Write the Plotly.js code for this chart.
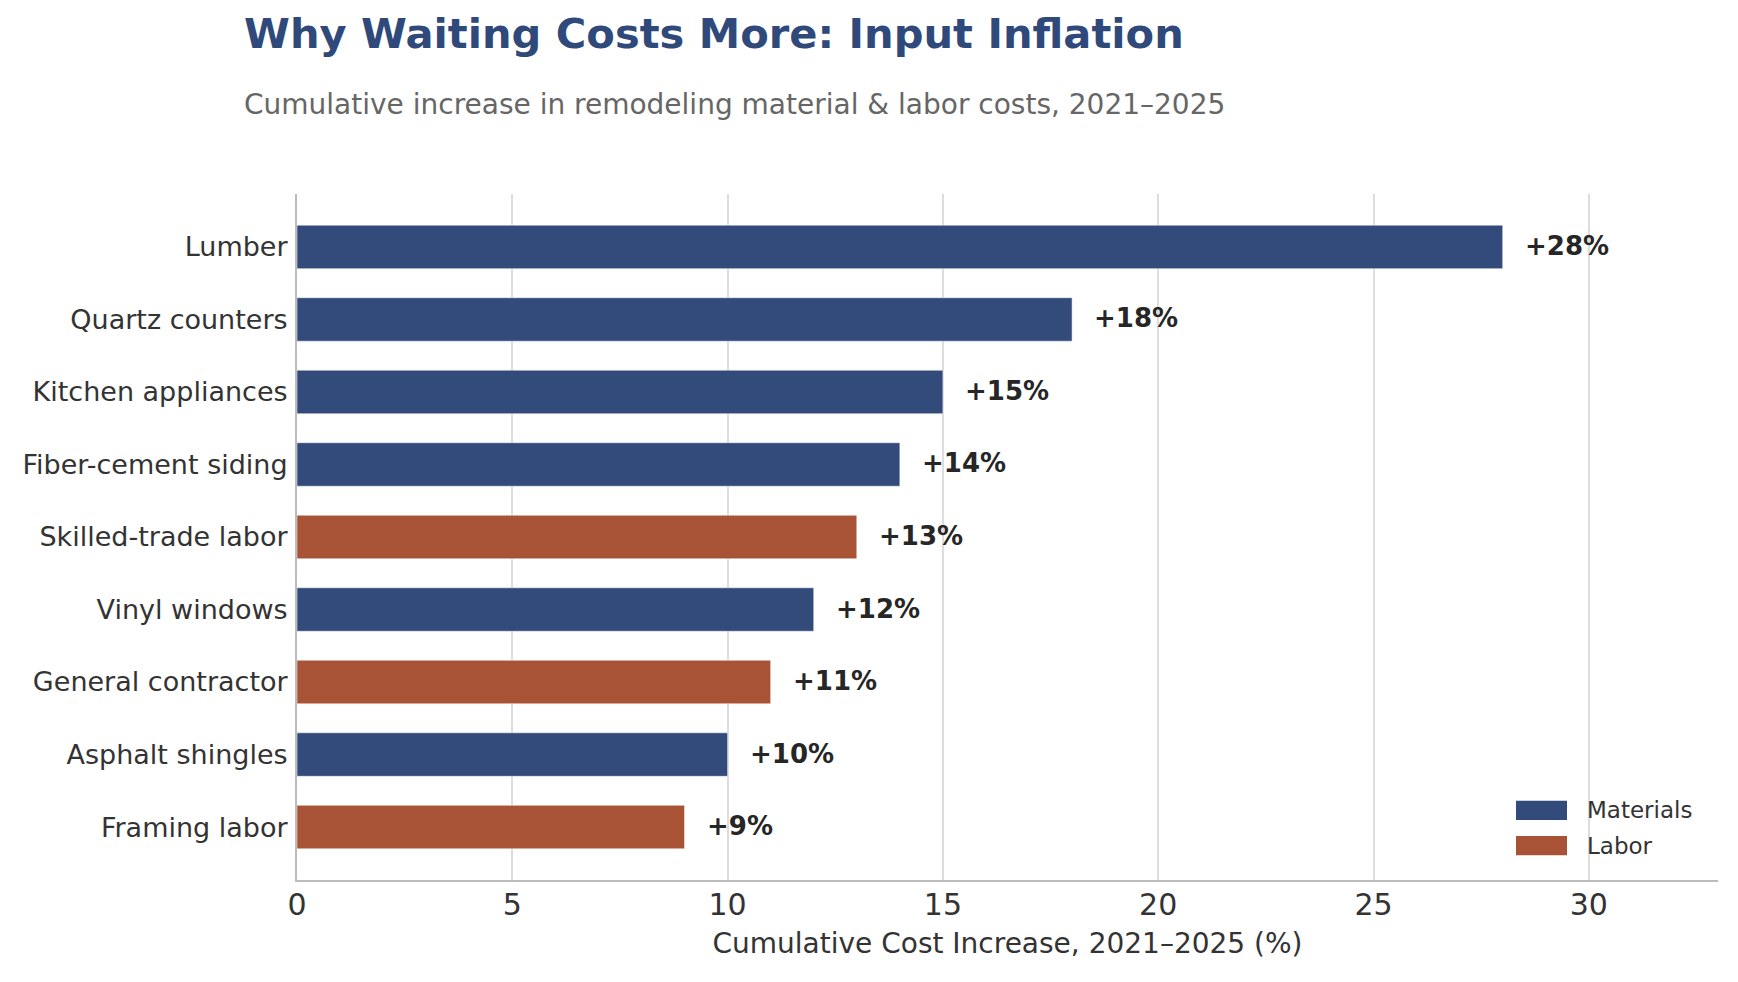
<!DOCTYPE html>
<html>
<head>
<meta charset="utf-8">
<script src="https://cdn.plot.ly/plotly-3.0.1.min.js"></script>
<style>
  html, body { margin: 0; padding: 0; background: #ffffff; }
  #chart { width: 1738px; height: 982px; }
</style>
</head>
<body>
<div id="chart"></div>
<script>
// ---- Data (top to bottom) ----
const categories = ["Lumber", "Quartz counters", "Kitchen appliances", "Fiber-cement siding",
                    "Skilled-trade labor", "Vinyl windows", "General contractor",
                    "Asphalt shingles", "Framing labor"];
const values = [28, 18, 15, 14, 13, 12, 11, 10, 9];
const groups = ["Materials", "Materials", "Materials", "Materials", "Labor",
                "Materials", "Labor", "Materials", "Labor"];
const seriesNames = ["Materials", "Labor"];
const seriesColors = ["#334b7b", "#a85236"];
const xTickValues = [0, 5, 10, 15, 20, 25, 30];

const FONT = "DejaVu Sans";

// ---- Traces ----
const traces = seriesNames.map((name, si) => {
  const ys = [], xs = [];
  categories.forEach((c, i) => { if (groups[i] === name) { ys.push(c); xs.push(values[i]); } });
  return {
    type: "bar", orientation: "h", name: name,
    x: xs, y: ys, width: 0.6,
    marker: { color: seriesColors[si], line: { color: "rgba(255,255,255,0.5)", width: 1 } },
    showlegend: false,
    hoverinfo: "x+y"
  };
});

// ---- Value labels ----
const annotations = categories.map((c, i) => ({
  x: values[i], y: c, xref: "x", yref: "y",
  text: "<b>+" + values[i] + "%</b>",
  showarrow: false, xanchor: "left", yanchor: "middle",
  xshift: 20, yshift: 1,
  font: { family: FONT, size: 26, color: "#262626" }
}));

// subtitle
annotations.push({
  xref: "paper", yref: "paper", x: (242 - 297) / 1421, y: (880 - 104) / 686,
  xanchor: "left", yanchor: "middle", showarrow: false,
  text: "Cumulative increase in remodeling material &amp; labor costs, 2021–2025",
  font: { family: FONT, size: 28, color: "#666666" }
});

// custom legend
const shapes = [];
const legendCenters = [810.3, 845.7];
seriesNames.forEach((name, si) => {
  const cy = legendCenters[si];
  shapes.push({
    type: "rect", xref: "paper", yref: "paper",
    x0: (1516 - 297) / 1421, x1: (1567 - 297) / 1421,
    y0: (880 - (cy + 9.6)) / 686, y1: (880 - (cy - 9.6)) / 686,
    fillcolor: seriesColors[si], line: { width: 0 }
  });
  annotations.push({
    xref: "paper", yref: "paper", x: (1585 - 297) / 1421, y: (880 - cy) / 686,
    xanchor: "left", yanchor: "middle", showarrow: false,
    text: name, font: { family: FONT, size: 23, color: "#333333" }
  });
});

const layout = {
  width: 1738, height: 982,
  paper_bgcolor: "#ffffff", plot_bgcolor: "#ffffff",
  margin: { l: 297, r: 20, t: 194, b: 102, pad: 0 },
  font: { family: FONT, color: "#333333" },
  title: {
    text: "<b>Why Waiting Costs More: Input Inflation</b>",
    font: { family: FONT, size: 41.6, color: "#2f4a7a" },
    xref: "container", yref: "container",
    x: 244 / 1738, xanchor: "left",
    y: 1 - 18.5 / 982, yanchor: "top"
  },
  barmode: "overlay",
  xaxis: {
    range: [0, 33], tickvals: xTickValues, ticktext: xTickValues.map(String),
    showgrid: true, gridcolor: "#dddddd", gridwidth: 1.5,
    zeroline: false, showline: true, linecolor: "#bbbbbb", linewidth: 2,
    ticks: "", ticklabelstandoff: -3,
    tickfont: { family: FONT, size: 30, color: "#333333" },
    title: { text: "Cumulative Cost Increase, 2021–2025 (%)", standoff: 12,
             font: { family: FONT, size: 28, color: "#333333" } },
    fixedrange: true
  },
  yaxis: {
    type: "category", categoryorder: "array", categoryarray: categories,
    range: [8.73, -0.73],
    showgrid: false, zeroline: false, showline: true, linecolor: "#bbbbbb", linewidth: 2,
    ticks: "", ticklabelstandoff: 2,
    tickfont: { family: FONT, size: 27, color: "#333333" },
    fixedrange: true
  },
  annotations: annotations,
  shapes: shapes,
  showlegend: false
};

Plotly.newPlot("chart", traces, layout, { displayModeBar: false, staticPlot: false });
</script>
</body>
</html>
